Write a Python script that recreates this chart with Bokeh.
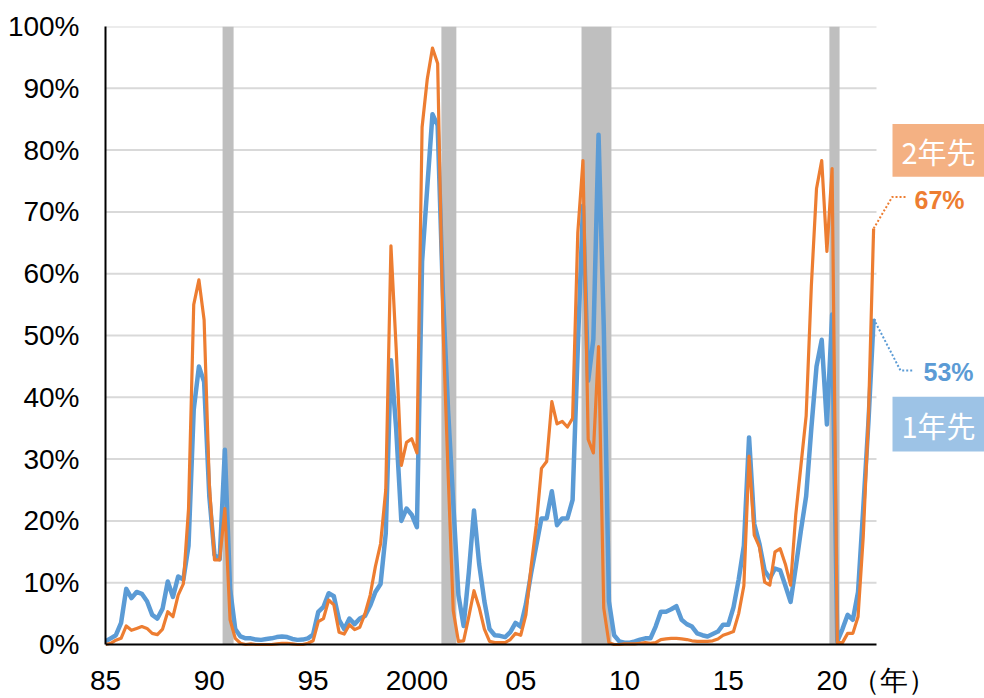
from bokeh.plotting import figure
from bokeh.models import Range1d, FixedTicker
from bokeh.core.properties import value
from bokeh.embed import file_html
from bokeh.resources import INLINE

# ---------------- data ----------------
start_year = 1985  # quarterly series, first value = 1985 Q1
# 1-year-ahead recession probability (%), quarterly
blue = [
    0.5, 1.0, 1.5, 3.5,      # 1985
    9.0, 7.5, 8.5, 8.2,      # 1986
    7.0, 4.8, 4.2, 5.8,      # 1987
    10.2, 7.7, 11.0, 10.5,   # 1988
    16.0, 38.0, 45.0, 42.5,  # 1989
    24.0, 14.5, 13.8, 31.5,  # 1990
    9.0, 2.5, 1.3, 1.0,      # 1991
    1.0, 0.8, 0.75, 0.9,     # 1992
    1.0, 1.2, 1.3, 1.2,      # 1993
    0.9, 0.75, 0.8, 1.0,     # 1994
    1.6, 5.3, 6.1, 8.3,      # 1995
    7.8, 4.0, 2.5, 4.2,      # 1996
    3.3, 4.2, 4.6, 6.3,      # 1997
    8.5, 9.8, 18.0, 46.0,    # 1998
    35.0, 20.0, 22.0, 21.0,  # 1999
    19.0, 62.0, 74.0, 85.8,  # 2000
    84.0, 57.0, 38.0, 23.0,  # 2001
    8.0, 3.0, 11.6, 21.7,    # 2002
    13.0, 7.0, 2.5, 1.5,     # 2003
    1.4, 1.2, 2.0, 3.5,      # 2004
    2.9, 6.5, 11.5, 16.0,    # 2005
    20.4, 20.4, 24.8, 19.3,  # 2006
    20.4, 20.4, 23.4, 48.0,  # 2007
    71.0, 42.7, 49.4, 82.5,  # 2008
    51.6, 7.0, 1.5, 0.5,     # 2009
    0.3, 0.3, 0.5, 0.8,      # 2010
    1.0, 1.0, 2.9, 5.3,      # 2011
    5.3, 5.7, 6.2, 4.0,      # 2012
    3.3, 2.9, 1.8, 1.5,      # 2013
    1.3, 1.7, 2.1, 3.2,      # 2014
    3.2, 6.0, 10.5, 16.0,    # 2015
    33.5, 19.5, 16.3, 12.0,  # 2016
    10.7, 12.3, 12.0, 9.5,   # 2017
    6.9, 12.5, 18.5, 24.0,   # 2018
    35.0, 45.0, 49.3, 35.6,  # 2019
    53.4, 0.5, 2.5, 4.8,     # 2020
    4.0, 8.5, 22.0, 36.0,    # 2021
    52.7,                    # 2022
]
# 2-year-ahead recession probability (%), quarterly
orange = [
    0.0, 0.2, 0.7, 1.0,      # 1985
    3.0, 2.3, 2.6, 2.9,      # 1986
    2.6, 1.8, 1.6, 2.5,      # 1987
    5.3, 4.5, 8.0, 9.8,      # 1988
    22.0, 55.0, 59.0, 52.5,  # 1989
    26.0, 13.7, 13.7, 22.0,  # 1990
    4.0, 1.0, 0.2, 0.0,      # 1991
    0.1, 0.0, 0.0, 0.0,      # 1992
    0.0, 0.1, 0.2, 0.2,      # 1993
    0.1, 0.0, 0.0, 0.2,      # 1994
    0.6, 3.7, 4.2, 7.2,      # 1995
    6.4, 2.0, 1.7, 3.2,      # 1996
    2.4, 2.8, 5.0, 8.0,      # 1997
    12.6, 16.3, 25.0, 64.5,  # 1998
    48.0, 29.0, 32.7, 33.3,  # 1999
    31.0, 83.7, 91.5, 96.5,  # 2000
    94.0, 52.0, 28.0, 5.5,   # 2001
    0.5, 0.6, 4.5, 8.7,      # 2002
    6.0, 2.5, 0.5, 0.3,      # 2003
    0.3, 0.3, 0.8, 1.8,      # 2004
    1.5, 4.8, 12.6, 19.3,    # 2005
    28.5, 29.6, 39.3, 35.7,  # 2006
    36.1, 35.2, 36.6, 66.6,  # 2007
    78.3, 33.2, 31.0, 48.2,  # 2008
    5.9, 0.3, 0.0, 0.0,      # 2009
    0.1, 0.1, 0.1, 0.2,      # 2010
    0.3, 0.2, 0.3, 0.8,      # 2011
    0.9, 1.0, 1.0, 0.9,      # 2012
    0.8, 0.6, 0.5, 0.5,      # 2013
    0.5, 0.6, 0.9, 1.5,      # 2014
    1.8, 2.1, 5.0, 9.5,      # 2015
    30.5, 17.7, 15.8, 10.1,  # 2016
    9.6, 15.0, 15.5, 13.0,   # 2017
    9.6, 21.0, 29.0, 37.0,   # 2018
    58.0, 73.8, 78.3, 63.6,  # 2019
    77.0, 0.3, 0.3, 1.8,     # 2020
    1.8, 4.5, 17.4, 36.7,    # 2021
    67.3,                    # 2022
]
# recession periods (shaded), decimal years
rec_start = [1990.64, 2001.18, 2007.93, 2019.87]
rec_end = [1991.17, 2001.90, 2009.37, 2020.36]

x_ticks = [1985, 1990, 1995, 2000, 2005, 2010, 2015, 2020]
x_labels = ["85", "90", "95", "2000", "05", "10", "15", "20"]
y_ticks = [0, 10, 20, 30, 40, 50, 60, 70, 80, 90, 100]
y_labels = [f"{v}%" for v in y_ticks]
series_names = ["1年先", "2年先"]
unit_label = "（年）"

dates = [start_year + i / 4 for i in range(len(blue))]

# ---------------- layout helpers (screen px -> data) ----------------
W, H = 984, 698
LEFT, TOP, ZERO = 105, 26, 647   # frame left, 100% line, 0% line (px)
PPY = 20.76                      # pixels per year
PPP = (ZERO - TOP) / 100.0       # pixels per percent
PAD = 2                          # frame extends 2px below the 0% line
X_END = start_year + (W - LEFT) / PPY
AXIS_END = start_year + (876 - LEFT) / PPY
UNIT_POS = 2023                  # where the "（年）" label sits


def X(px):
    return start_year + (px - LEFT) / PPY


def Y(py):
    return (ZERO - py) / PPP


BLUE = "#5B9BD5"
ORANGE = "#ED7D31"
TICK_FONT = "Liberation Sans"
CJK_FONT = "Noto Sans CJK JP"

p = figure(width=W, height=H, output_backend="svg", toolbar_location=None,
           x_range=Range1d(start_year, X_END),
           y_range=Range1d(-PAD / PPP, 100),
           min_border_left=LEFT, min_border_right=0, min_border_top=TOP,
           min_border_bottom=H - ZERO - PAD)
p.outline_line_color = None
p.background_fill_color = "white"
p.border_fill_color = "white"
p.xgrid.grid_line_color = None
p.ygrid.grid_line_color = None

# axes
p.xaxis.ticker = FixedTicker(ticks=x_ticks + [UNIT_POS])
overrides = {t: l for t, l in zip(x_ticks, x_labels)}
overrides[UNIT_POS] = unit_label
p.xaxis.major_label_overrides = overrides
p.xaxis.axis_line_color = None
p.yaxis.ticker = FixedTicker(ticks=y_ticks)
p.yaxis.major_label_overrides = {t: l for t, l in zip(y_ticks, y_labels)}
p.yaxis.axis_line_color = "black"
p.yaxis.axis_line_width = 2
p.yaxis.bounds = (0, 100)
for ax in (p.xaxis, p.yaxis):
    ax.major_tick_out = 0
    ax.major_tick_in = 0
    ax.minor_tick_out = 0
    ax.minor_tick_in = 0
    ax.major_label_text_font = TICK_FONT
    ax.major_label_text_font_size = "28px"
    ax.major_label_text_color = "black"
p.yaxis.major_label_standoff = 26
p.xaxis.major_label_standoff = 18

# gridlines (stop at the end of the x axis)
g = y_ticks[1:]
p.segment(x0=[start_year] * len(g), y0=g, x1=[AXIS_END] * len(g), y1=g,
          line_color="#D9D9D9", line_width=2)

# recession shading
p.quad(left=rec_start, right=rec_end, bottom=0, top=100,
       fill_color="#BFBFBF", line_color=None)

# series
p.line(dates, blue, line_color=BLUE, line_width=4.5, line_join="round")
p.line(dates, orange, line_color=ORANGE, line_width=3.2, line_join="round")

# x axis base line
p.segment(x0=[start_year], y0=[0], x1=[AXIS_END], y1=[0],
          line_color="black", line_width=2)

# leader lines to end-value labels
p.line([dates[-1], X(891.7), X(905)], [orange[-1], Y(197.3), Y(197.3)],
       line_color=ORANGE, line_width=2, line_dash="2 2")
p.line([dates[-1], X(900), X(913)], [blue[-1], Y(371.7), Y(371.7)],
       line_color=BLUE, line_width=2, line_dash="2 2")

p.text(x=[X(939)], y=[Y(200)], text=[f"{round(orange[-1])}%"],
       text_color=ORANGE, text_font=value(TICK_FONT), text_font_size="25px",
       text_font_style="bold", text_align="center", text_baseline="middle")
p.text(x=[X(948)], y=[Y(373)], text=[f"{round(blue[-1])}%"],
       text_color=BLUE, text_font=value(TICK_FONT), text_font_size="25px",
       text_font_style="bold", text_align="center", text_baseline="middle")

# series name boxes
p.quad(left=[X(892)], right=[X(984)], top=[Y(124)], bottom=[Y(177)],
       fill_color="#F4B183", line_color=None)
p.quad(left=[X(892)], right=[X(984)], top=[Y(398)], bottom=[Y(453)],
       fill_color="#9DC3E6", line_color=None)
p.text(x=[X(938)], y=[Y(151)], text=[series_names[1]], text_color="white",
       text_font=value(CJK_FONT), text_font_size="29px",
       text_align="center", text_baseline="middle")
p.text(x=[X(938)], y=[Y(426)], text=[series_names[0]], text_color="white",
       text_font=value(CJK_FONT), text_font_size="29px",
       text_align="center", text_baseline="middle")

open("out.html", "w").write(file_html(p, INLINE))
